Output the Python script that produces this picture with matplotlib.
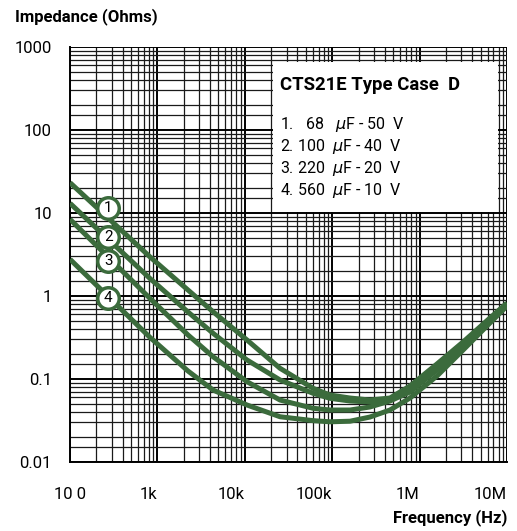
import matplotlib
matplotlib.use("Agg")
import matplotlib.pyplot as plt
import numpy as np
from matplotlib.patches import Rectangle
from matplotlib.ticker import LogLocator, NullFormatter

plt.rcParams['font.family'] = ['Roboto', 'DejaVu Sans']
plt.rcParams['mathtext.fontset'] = 'dejavusans'

# ---- data ----
freq = [100, 820, 2240, 4330, 10600, 25300, 60300, 94400, 160000, 270000,
        458000, 776000, 1.58e6, 3.14e6, 6.38e6, 1.0e7]
z_68uF = [23.2, 2.97, 1.18, 0.647, 0.295, 0.1346, 0.0773, 0.0641, 0.0590, 0.0558,
          0.0590, 0.0824, 0.1517, 0.279, 0.543, 0.824]
z_100uF = [13.1, 1.63, 0.641, 0.356, 0.1694, 0.0973, 0.0673, 0.0585, 0.0543, 0.0528,
           0.0558, 0.0780, 0.1435, 0.264, 0.528, 0.806]
z_220uF = [8.40, 0.938, 0.339, 0.1857, 0.0928, 0.0558, 0.0444, 0.0423, 0.0423, 0.0460,
           0.0543, 0.0697, 0.1283, 0.243, 0.500, 0.780]
z_560uF = [2.77, 0.318, 0.1248, 0.0737, 0.0486, 0.0351, 0.0315, 0.0305, 0.0310, 0.0348,
           0.0423, 0.0590, 0.1086, 0.223, 0.473, 0.759]
series = [z_68uF, z_100uF, z_220uF, z_560uF]

marker_labels = ['1', '2', '3', '4']
marker_freq = [274, 274, 274, 274]
marker_z = [11.4, 5.18, 2.66, 0.955]

legend_title = 'CTS21E Type Case  D'
legend_items = ['1.   68   $\\mu$F - 50  V',
                '2. 100  $\\mu$F - 40  V',
                '3. 220  $\\mu$F - 20  V',
                '4. 560  $\\mu$F - 10  V']

x_ticks = [1e2, 1e3, 1e4, 1e5, 1e6, 1e7]
x_ticklabels = ['10 0', '1k', '10k', '100k', '1M', '10M']
y_ticks = [0.01, 0.1, 1, 10, 100, 1000]
y_ticklabels = ['0.01', '0.1', '1', '10', '100', '1000']

green = '#3b6b3c'

W, H = 517, 531
fig = plt.figure(figsize=(W / 100, H / 100), dpi=100)
ax = fig.add_axes([70 / W, 1 - 462 / H, 437 / W, 415 / H])
ax.set_xscale('log')
ax.set_yscale('log')
ax.set_xlim(1e2, 1e7)
ax.set_ylim(0.01, 1000)

# grid: major + minor lines
ax.xaxis.set_minor_locator(LogLocator(base=10, subs=[2, 3, 4, 5, 6, 7, 8, 9], numticks=20))
ax.yaxis.set_minor_locator(LogLocator(base=10, subs=[1.5, 2, 3, 4, 5, 6, 7, 8, 9], numticks=20))
ax.xaxis.set_minor_formatter(NullFormatter())
ax.yaxis.set_minor_formatter(NullFormatter())
ax.grid(which='major', color='black', lw=1.4)
ax.grid(which='minor', color='#1a1a1a', lw=0.9)

ax.set_xticks(x_ticks)
ax.set_xticklabels(x_ticklabels)
ax.set_yticks(y_ticks)
ax.set_yticklabels(y_ticklabels)
ax.tick_params(which='both', length=0)
ax.tick_params(axis='x', pad=18, labelsize=12)
ax.tick_params(axis='y', pad=13, labelsize=12)
for i, lab in enumerate(ax.get_xticklabels()):
    lab.set_ha('center' if i == 0 else 'right')
for s in ['top', 'right']:
    ax.spines[s].set_visible(False)
ax.spines['left'].set_linewidth(1.4)
ax.spines['bottom'].set_linewidth(1.4)

# legend box
ax.add_patch(Rectangle((0.4645, 0.602), 0.5145, 0.362, transform=ax.transAxes,
                       facecolor='white', edgecolor='none', zorder=2))

for z in series:
    ax.plot(freq, z, color=green, lw=3.6, solid_capstyle='butt', zorder=3)

ax.plot(marker_freq, marker_z, ls='none', marker='o', ms=15.5, mfc='white',
        mec=green, mew=2.5, zorder=4)
for f, z, t in zip(marker_freq, marker_z, marker_labels):
    ax.text(f, z, t, ha='center', va='center', fontsize=11, zorder=5, color='black')

fig.text(280 / W, 1 - 85 / H, legend_title, ha='left', va='center',
         fontsize=13.3, fontweight='bold')
item_y = [125, 146.7, 168.3, 190.7]
for yy, t in zip(item_y, legend_items):
    fig.text(280 / W, 1 - yy / H, t, ha='left', va='center', fontsize=11.5)

fig.text(15 / W, 1 - 17 / H, 'Impedance (Ohms)', ha='left', va='center',
         fontsize=12, fontweight='bold')
fig.text(507 / W, 1 - 518 / H, 'Frequency (Hz)', ha='right', va='center',
         fontsize=12, fontweight='bold')

fig.savefig('out.png', dpi=100, facecolor='white')
